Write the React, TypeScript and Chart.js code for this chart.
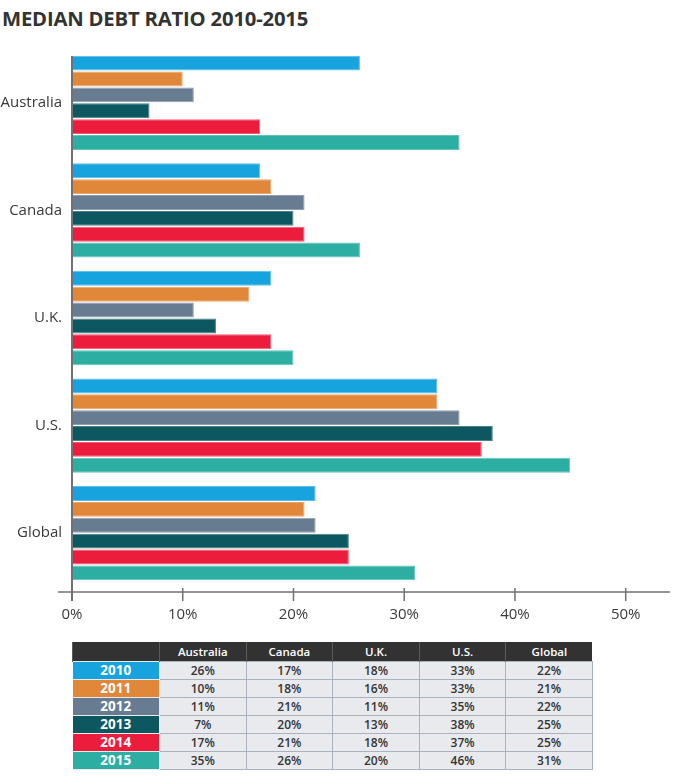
import { useEffect, useRef } from "react";
import { Chart, registerables } from "chart.js";

Chart.register(...registerables);

const categories = ["Australia", "Canada", "U.K.", "U.S.", "Global"];
const years = ["2010", "2011", "2012", "2013", "2014", "2015"];

// bar lengths
const values2010 = [26, 17, 18, 33, 22];
const values2011 = [10, 18, 16, 33, 21];
const values2012 = [11, 21, 11, 35, 22];
const values2013 = [7, 20, 13, 38, 25];
const values2014 = [17, 21, 18, 37, 25];
const values2015 = [35, 26, 20, 45, 31];

// the table prints 46% for U.S. 2015, the bar is drawn at ~45
const table2015 = [35, 26, 20, 46, 31];

const xTicks = [0, 10, 20, 30, 40, 50];

const yearColors = ["#17a3dd", "#e1873a", "#677b91", "#0d5860", "#ec1d3c", "#2daea3"];
const yearEdges = ["#5bbde8", "#eba56a", "#8e9eb0", "#4a8088", "#f25a72", "#62c3ba"];

const seriesValues = [values2010, values2011, values2012, values2013, values2014, values2015];
const tableRows = [values2010, values2011, values2012, values2013, values2014, table2015];

const FONT = "'Open Sans', 'Noto Sans', sans-serif";

// axis line sits a little below the plot, ticks cross it
const axisLines = {
  id: "axisLines",
  afterDraw(chart: any) {
    const { ctx, chartArea, scales } = chart;
    const x = scales.x;
    const x0 = x.getPixelForValue(0);
    const axisY = chartArea.bottom + 5;
    ctx.save();
    ctx.strokeStyle = "#707174";
    ctx.lineWidth = 2;
    ctx.beginPath();
    ctx.moveTo(x0, chartArea.top + 7);
    ctx.lineTo(x0, axisY + 9);
    ctx.stroke();

    ctx.lineWidth = 1.5;
    ctx.beginPath();
    ctx.moveTo(chartArea.left - 14, axisY);
    ctx.lineTo(chartArea.right, axisY);
    xTicks.forEach((t) => {
      if (t === 0) return;
      const px = x.getPixelForValue(t);
      ctx.moveTo(px, axisY - 4);
      ctx.lineTo(px, axisY + 9);
    });
    ctx.stroke();
    ctx.restore();
  },
};

function DebtChart() {
  const canvasRef = useRef<HTMLCanvasElement>(null);
  const chartRef = useRef<Chart | null>(null);

  useEffect(() => {
    if (!canvasRef.current) return;
    if (chartRef.current) chartRef.current.destroy();
    const ctx = canvasRef.current.getContext("2d");
    if (!ctx) return;

    const config: any = {
      type: "bar",
      data: {
        labels: categories,
        datasets: years.map((y, i) => ({
          label: y,
          data: seriesValues[i],
          backgroundColor: yearColors[i],
          borderColor: yearEdges[i],
          borderWidth: 1,
          borderSkipped: "start",
          categoryPercentage: 0.885,
          barPercentage: 0.94,
        })),
      },
      options: {
        indexAxis: "y",
        responsive: true,
        maintainAspectRatio: false,
        animation: false,
        layout: { padding: { top: 13.6, right: 9, left: 0, bottom: 0 } },
        plugins: {
          legend: { display: false },
          tooltip: { enabled: false },
          title: { display: false },
        },
        scales: {
          x: {
            type: "linear",
            min: 0,
            max: 54,
            grid: { display: false, drawTicks: false },
            border: { display: false },
            afterFit: (s: any) => {
              s.height = 37;
            },
            afterBuildTicks: (s: any) => {
              s.ticks = xTicks.map((v) => ({ value: v }));
            },
            ticks: {
              padding: 19,
              color: "#3a3a3a",
              font: { family: FONT, size: 15 },
              callback: (v: any) => v + "%",
            },
          },
          y: {
            grid: { display: false, drawTicks: false },
            border: { display: false },
            afterFit: (s: any) => {
              s.width = 72;
            },
            ticks: {
              padding: 10,
              color: "#3a3a3a",
              font: { family: FONT, size: 15 },
            },
          },
        },
      },
      plugins: [axisLines],
    };

    chartRef.current = new Chart(ctx, config);
    return () => {
      if (chartRef.current) {
        chartRef.current.destroy();
        chartRef.current = null;
      }
    };
  }, []);

  return (
    <div style={{ position: "absolute", left: 0, top: 30, width: 679, height: 594 }}>
      <canvas ref={canvasRef} />
    </div>
  );
}

function DataTable() {
  const cell: any = {
    border: "1px solid #aab2c0",
    background: "#e9eaee",
    color: "#333",
    fontSize: 12,
    fontWeight: 600,
    lineHeight: "17px",
    textAlign: "center",
    padding: 0,
    height: 17.7,
    boxSizing: "border-box",
  };
  const head: any = {
    background: "#323232",
    color: "#fff",
    fontSize: 11.5,
    fontWeight: 600,
    lineHeight: "18px",
    height: 19,
    padding: 0,
    borderLeft: "1px solid #5a5a5a",
  };
  return (
    <table
      style={{
        position: "absolute",
        left: 72,
        top: 642,
        width: 520,
        borderCollapse: "collapse",
        tableLayout: "fixed",
        fontFamily: FONT,
      }}
    >
      <colgroup>
        <col style={{ width: 87 }} />
        {categories.map((c) => (
          <col key={c} style={{ width: 86.6 }} />
        ))}
      </colgroup>
      <thead>
        <tr>
          <th style={head} />
          {categories.map((c) => (
            <th key={c} style={head}>
              {c}
            </th>
          ))}
        </tr>
      </thead>
      <tbody>
        {years.map((y, i) => (
          <tr key={y}>
            <td
              style={{
                ...cell,
                background: yearColors[i],
                color: "#fff",
                fontSize: 13.5,
                fontWeight: 700,
                border: "1px solid #e9eaee",
                borderLeft: "none",
              }}
            >
              {y}
            </td>
            {tableRows[i].map((v, j) => (
              <td key={j} style={cell}>
                {v}%
              </td>
            ))}
          </tr>
        ))}
      </tbody>
    </table>
  );
}

export default function App() {
  return (
    <div
      style={{
        position: "absolute",
        left: 0,
        top: 0,
        width: 679,
        height: 779,
        background: "#fff",
        fontFamily: FONT,
      }}
    >
      <div
        style={{
          position: "absolute",
          left: 2,
          top: 4,
          fontSize: 20.3,
          fontWeight: 700,
          color: "#333",
          letterSpacing: -0.2,
          whiteSpace: "nowrap",
        }}
      >
        MEDIAN DEBT RATIO 2010-2015
      </div>
      <DebtChart />
      <DataTable />
    </div>
  );
}
